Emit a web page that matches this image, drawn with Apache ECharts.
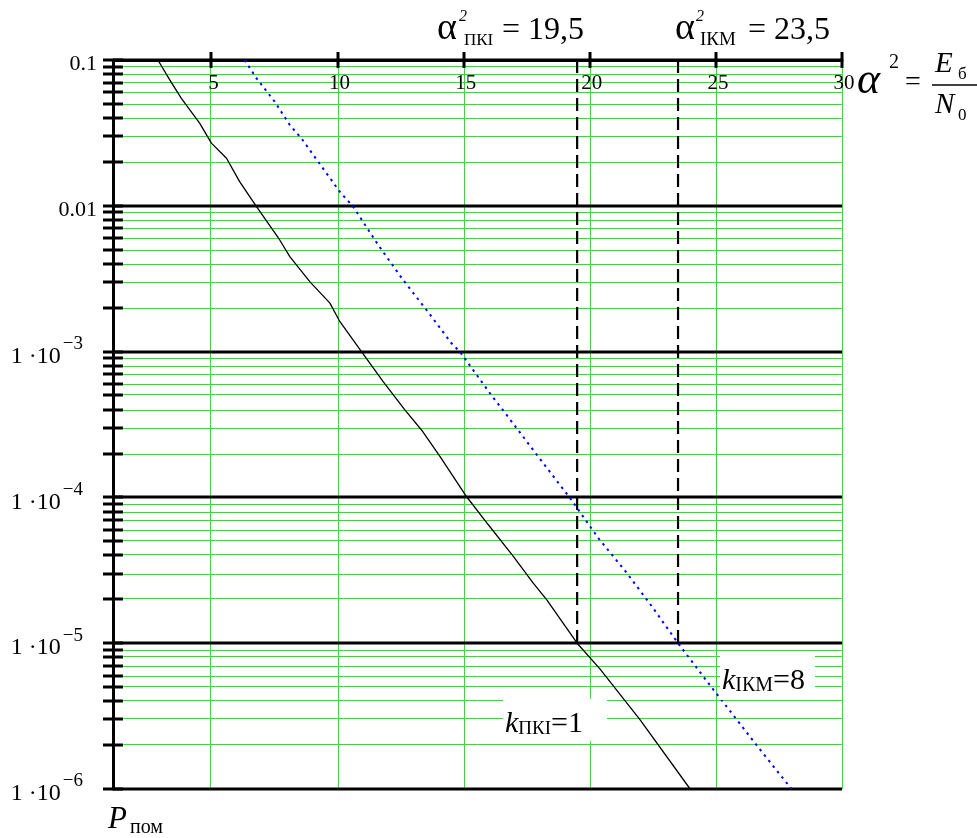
<!DOCTYPE html>
<html><head><meta charset="utf-8">
<script src="https://cdn.jsdelivr.net/npm/echarts@6/dist/echarts.min.js"></script>
<style>html,body{margin:0;padding:0;background:#fff}#c{width:977px;height:838px}</style>
</head><body><div id="c"></div>
<script>
// ---- data ----
const xMin = 1.1, xMax = 30;
const yMin = 1e-6, yMax = 0.1;
const xTicks = [5, 10, 15, 20, 25, 30];
const yDecades = [1e-6, 1e-5, 1e-4, 1e-3, 0.01, 0.1];
const yTickLabels = ['1 ·10^−6', '1 ·10^−5', '1 ·10^−4', '1 ·10^−3', '0.01', '0.1'];
const minorMultipliers = [2, 3, 4, 5, 6, 7, 8, 9];

// k_ПКІ = 1 (solid black)
const pkiX = [2.88, 3.35, 3.81, 4.54, 5.0, 5.6, 6.12, 6.79, 7.71, 8.11, 8.9, 9.7, 10.09, 10.95, 11.81, 12.67, 13.33, 14.06, 15.12, 15.98, 16.97, 17.76, 18.29, 19.5, 20.41, 21.99, 23.98];
const pkiP = [0.1, 0.073, 0.0546, 0.0368, 0.0269, 0.0212, 0.01466, 0.00986, 0.00583, 0.00448, 0.00302, 0.00215, 0.00161, 0.001, 6.22e-4, 3.98e-4, 2.9e-4, 1.91e-4, 1.01e-4, 6.49e-5, 3.94e-5, 2.58e-5, 1.99e-5, 1.0e-5, 6.64e-6, 2.99e-6, 1e-6];
// k_ІКМ = 8 (blue dotted)
const ikmX = [6.32, 6.79, 7.51, 8.11, 8.57, 9.23, 10.09, 10.62, 11.61, 12.6, 13.53, 14.52, 14.85, 16.04, 17.1, 17.9, 19.22, 20.34, 21.47, 22.46, 23.5, 24.9, 25.83, 26.63, 28.0];
const ikmP = [0.1, 0.0748, 0.0518, 0.0358, 0.029, 0.0201, 0.0125, 0.00986, 0.0054, 0.0031, 0.00193, 0.00114, 0.001, 5.19e-4, 2.99e-4, 1.96e-4, 9.89e-5, 5.26e-5, 3.03e-5, 1.79e-5, 1.0e-5, 4.8e-6, 2.99e-6, 1.98e-6, 1e-6];
// threshold markers
const thresholdX = [19.5, 23.5];
const thresholdP = 1e-5;

// ---- build ----
const SERIF = "'Liberation Serif','Times New Roman',serif";
const GREEN = '#00ff00';
const minorValues = [];
yDecades.slice(0, -1).forEach(d => minorMultipliers.forEach(m => minorValues.push(d * m)));
// snap a 1px line onto the nearest even pixel row/column
const px = v => 2 * Math.round((v - 0.5) / 2) + 0.5;

const labelMap = {};
yDecades.forEach((d, i) => labelMap[Math.round(Math.log10(d))] = yTickLabels[i]);

function gridRender(params, api) {
  const children = [];
  const L = api.coord([xMin, yMax]), R = api.coord([xMax, yMin]);
  const left = L[0], right = R[0], top = L[1], bottom = R[1];
  minorValues.forEach(v => {
    const y = api.coord([xMin, v])[1];
    children.push({type: 'line', shape: {x1: left, y1: px(y), x2: right, y2: px(y)}, style: {stroke: GREEN, lineWidth: 1}});
    children.push({type: 'line', shape: {x1: left - 10, y1: Math.round(y), x2: left + 10, y2: Math.round(y)}, style: {stroke: '#000', lineWidth: 3}, z2: 5});
  });
  xTicks.forEach(xv => {
    const x = api.coord([xv, yMax])[0];
    children.push({type: 'line', shape: {x1: px(x), y1: top, x2: px(x), y2: bottom}, style: {stroke: GREEN, lineWidth: 1}});
    children.push({type: 'line', shape: {x1: Math.round(x), y1: top - 8, x2: Math.round(x), y2: top + 8}, style: {stroke: '#000', lineWidth: 3}, z2: 5});
    children.push({type: 'text', style: {text: String(xv), x: x + 2, y: top + 23, align: 'center', verticalAlign: 'middle', fontSize: 21, fontFamily: SERIF, fill: '#000'}, z2: 6});
  });
  yDecades.forEach(v => {
    const y = Math.round(api.coord([xMin, v])[1]);
    children.push({type: 'line', shape: {x1: left, y1: y, x2: right, y2: y}, style: {stroke: '#000', lineWidth: 3}, z2: 4});
    children.push({type: 'line', shape: {x1: left - 10, y1: y, x2: left + 10, y2: y}, style: {stroke: '#000', lineWidth: 3}, z2: 5});
  });
  return {type: 'group', children};
}

function T(text, x, baseline, size, italic) {
  return {type: 'text', x: x, y: baseline - 0.32 * size, z: 20,
    style: {text, fontSize: size, fontFamily: SERIF, fontStyle: italic ? 'italic' : 'normal', fill: '#000', align: 'left', verticalAlign: 'middle'}};
}

const option = {
  animation: false,
  backgroundColor: '#fff',
  grid: {left: 113, right: 135, top: 60, bottom: 49},
  xAxis: {
    type: 'value', min: xMin, max: xMax, position: 'top', z: 5,
    axisLine: {show: true, onZero: false, lineStyle: {color: '#000', width: 3}},
    axisTick: {show: false}, axisLabel: {show: false}, splitLine: {show: false}
  },
  yAxis: {
    type: 'log', logBase: 10, min: yMin, max: yMax, z: 5,
    axisLine: {show: true, onZero: false, lineStyle: {color: '#000', width: 3}},
    axisTick: {show: false}, splitLine: {show: false}, minorTick: {show: false}, minorSplitLine: {show: false},
    axisLabel: {
      margin: 16, color: '#000', fontFamily: SERIF, fontSize: 22,
      formatter: v => {
        const s = labelMap[Math.round(Math.log10(v))] || '';
        if (s.indexOf('^') < 0) return '{p|' + s + '}';
        const parts = s.split('^');
        return '{m|' + parts[0] + '}{e|' + parts[1] + '}';
      },
      rich: {
        p: {fontSize: 22, fontFamily: SERIF, color: '#000', padding: [9, 0, 0, 0]},
        m: {fontSize: 24, fontFamily: SERIF, color: '#000', lineHeight: 34, verticalAlign: 'bottom'},
        e: {fontSize: 19, fontFamily: SERIF, color: '#000', lineHeight: 18, verticalAlign: 'top', padding: [0, 14, 0, 2]}
      }
    }
  },
  series: [
    {
      type: 'custom', z: 1, silent: true,
      data: [[xMin, yMin]],
      renderItem: gridRender
    }
  ].concat(thresholdX.map(x => ({
    type: 'line', z: 4, symbol: 'none', silent: true,
    data: [[x, yMax], [x, thresholdP]],
    lineStyle: {color: '#000', width: 2.2, type: [13, 6]}
  }))).concat([
    {
      type: 'line', z: 6, symbol: 'none', silent: true,
      data: pkiX.map((x, i) => [x, pkiP[i]]),
      lineStyle: {color: '#000', width: 1.3}
    },
    {
      type: 'line', z: 6, symbol: 'none', silent: true,
      data: ikmX.map((x, i) => [x, ikmP[i]]),
      lineStyle: {color: '#0000ff', width: 2, type: [2.5, 4.5]}
    }
  ]),
  graphic: [
    // title 1
    T('α', 437, 41, 38, false), T('2', 459, 22, 16, true), T('ПКІ', 464, 46, 17, false),
    T(' = 19,5', 494, 41, 32, false),
    // title 2
    T('α', 675, 41, 38, false), T('2', 696, 22, 16, true), T('ІКМ', 700, 46, 19, false),
    T(' = 23,5', 740, 41, 32, false),
    // right axis label
    T('α', 857, 96, 44, true), T('2', 889, 69, 20, false), T('=', 905, 92, 28, false),
    T('E', 935, 74, 29, true), T('б', 958, 80, 17, false),
    {type: 'line', z: 20, shape: {x1: 932, y1: 85, x2: 977, y2: 85}, style: {stroke: '#000', lineWidth: 1.5}},
    T('N', 935, 115, 29, true), T('0', 958, 121, 17, false),
    // P_пом
    T('P', 108, 830, 31, true), T('пом', 130, 834, 20, false),
    { // k_ПКІ=1
      type: 'text', left: 503, top: 699, z: 20,
      style: {
        text: '{k|k}{s|ПКІ}{t|=1}',
        backgroundColor: '#fff', padding: [2, 24, 2, 2],
        rich: {
          k: {fontSize: 30, fontFamily: SERIF, fontStyle: 'italic', fill: '#000', lineHeight: 38, verticalAlign: 'bottom'},
          s: {fontSize: 19, fontFamily: SERIF, fill: '#000', lineHeight: 16, verticalAlign: 'bottom'},
          t: {fontSize: 30, fontFamily: SERIF, fill: '#000', lineHeight: 38, verticalAlign: 'bottom'}
        }
      }
    },
    { // k_ІКМ=8
      type: 'text', left: 720, top: 656, z: 20,
      style: {
        text: '{k|k}{s|ІКМ}{t|=8}',
        backgroundColor: '#fff', padding: [2, 10, 4, 2],
        rich: {
          k: {fontSize: 30, fontFamily: SERIF, fontStyle: 'italic', fill: '#000', lineHeight: 38, verticalAlign: 'bottom'},
          s: {fontSize: 20, fontFamily: SERIF, fill: '#000', lineHeight: 16, verticalAlign: 'bottom'},
          t: {fontSize: 30, fontFamily: SERIF, fill: '#000', lineHeight: 38, verticalAlign: 'bottom'}
        }
      }
    }
  ]
};
const chart = echarts.init(document.getElementById('c'), null, {renderer: 'canvas'});
chart.setOption(option);
</script>
</body></html>
